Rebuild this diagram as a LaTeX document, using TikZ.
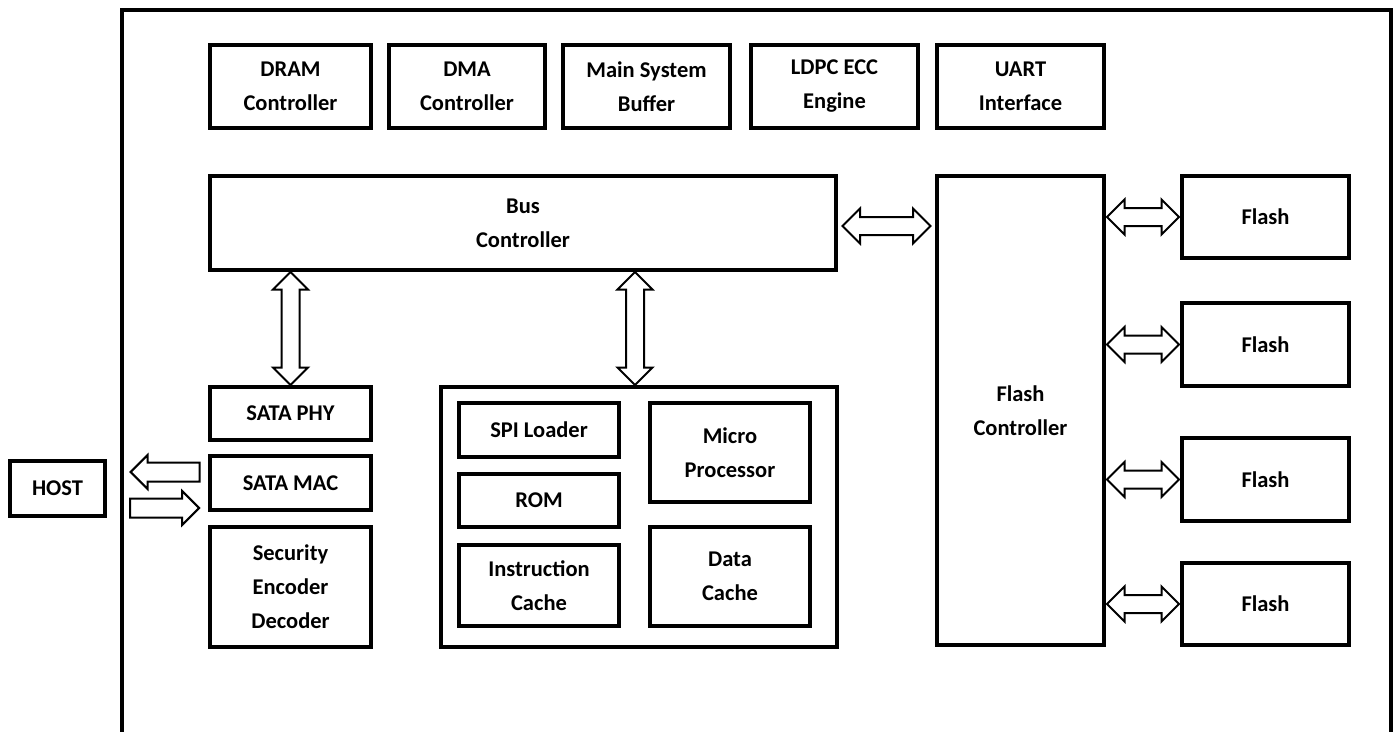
\documentclass[tikz,border=0pt]{standalone}
\usepackage{fontspec}
\setmainfont{Carlito}
\usetikzlibrary{shapes.arrows, calc}

\tikzset{
  blk/.style={draw, line width=3.2pt, align=center, inner sep=0pt,
    font=\bfseries\fontsize{22.5}{34}\selectfont},
  dblarrow/.style={double arrow, draw, line width=2pt, inner xsep=0pt,
    inner ysep=8pt, double arrow head extend=8.5pt,
    double arrow head indent=0pt},
  onearrow/.style={single arrow, draw, line width=2pt, inner xsep=0pt,
    inner ysep=8.5pt, single arrow head extend=7.5pt,
    single arrow head indent=0pt, minimum height=69pt},
}

\begin{document}
\begin{tikzpicture}[x=1pt, y=-1pt]
\useasboundingbox (0,0) rectangle (1397,731);

% drive frame, open at the bottom
\draw[line width=3.8pt] (122,735) -- (122,10) -- (1391,10) -- (1391,735);

% top row of blocks
\node[blk, minimum width=161pt, minimum height=83pt] (dram) at (290.5,86.5) {DRAM\\Controller};
\node[blk, minimum width=156pt, minimum height=83pt] (dma) at (467,86.5) {DMA\\Controller};
\node[blk, minimum width=167pt, minimum height=83pt] (buf) at (646.5,86.5) {Main System\\Buffer};
\node[blk, minimum width=167pt, minimum height=83pt] (ecc) at (834.5,86.5) {LDPC ECC\\Engine};
\node[blk, minimum width=167pt, minimum height=83pt] (uart) at (1020.5,86.5) {UART\\Interface};

\node[blk, minimum width=626pt, minimum height=94pt] (bus) at (523,223) {Bus\\Controller};
\node[blk, minimum width=167pt, minimum height=469pt] (fctl) at (1020.5,410.5) {Flash\\Controller};

% flash chips
\node[blk, minimum width=167pt, minimum height=82pt] (flash1) at (1265.5,217) {Flash};
\node[blk, minimum width=167pt, minimum height=83pt] (flash2) at (1265.5,344.5) {Flash};
\node[blk, minimum width=167pt, minimum height=83pt] (flash3) at (1265.5,479.5) {Flash};
\node[blk, minimum width=167pt, minimum height=82pt] (flash4) at (1265.5,604) {Flash};

% host side
\node[blk, minimum width=161pt, minimum height=53pt] (phy) at (290.5,413.5) {SATA PHY};
\node[blk, minimum width=161pt, minimum height=54pt] (mac) at (290.5,483) {SATA MAC};
\node[blk, minimum width=161pt, minimum height=120pt] (sec) at (290.5,587) {Security\\Encoder\\Decoder};
\node[blk, minimum width=95pt, minimum height=55pt] (host) at (57.5,488.5) {HOST};

% processor subsystem
\node[blk, minimum width=396pt, minimum height=260pt] (cpu) at (639,517) {};
\node[blk, minimum width=160pt, minimum height=54pt] (spi) at (539,430) {SPI Loader};
\node[blk, minimum width=160pt, minimum height=53pt] (rom) at (539,500.5) {ROM};
\node[blk, minimum width=160pt, minimum height=81pt] (icache) at (539,585.5) {Instruction\\Cache};
\node[blk, minimum width=160pt, minimum height=99pt] (micro) at (730,452.5) {Micro\\Processor};
\node[blk, minimum width=160pt, minimum height=99pt] (dcache) at (730,576.5) {Data\\Cache};

% links
\node[dblarrow, minimum height=88pt] (busfc) at ($(bus.east)!.5!(fctl.west |- bus.east)+(0,3)$) {};
\node[dblarrow, minimum height=113pt, rotate=90] (busphy) at ($(phy.north)!.5!(phy.north |- bus.south)$) {};
\node[dblarrow, minimum height=113pt, rotate=90] (buscpu) at ($(cpu.north)!.5!(cpu.north |- bus.south)+(-4,0)$) {};
\foreach \i in {1,...,4}
  \node[dblarrow, minimum height=72pt] (fl\i) at ($(flash\i.west)!.5!(fctl.east |- flash\i.west)$) {};

\node[onearrow, rotate=180] (hostin) at ($(mac.west)+(-38.5,-11)$) {};
\node[onearrow] (hostout) at ($(mac.west)+(-48.5,25)$) {};

\end{tikzpicture}
\end{document}
